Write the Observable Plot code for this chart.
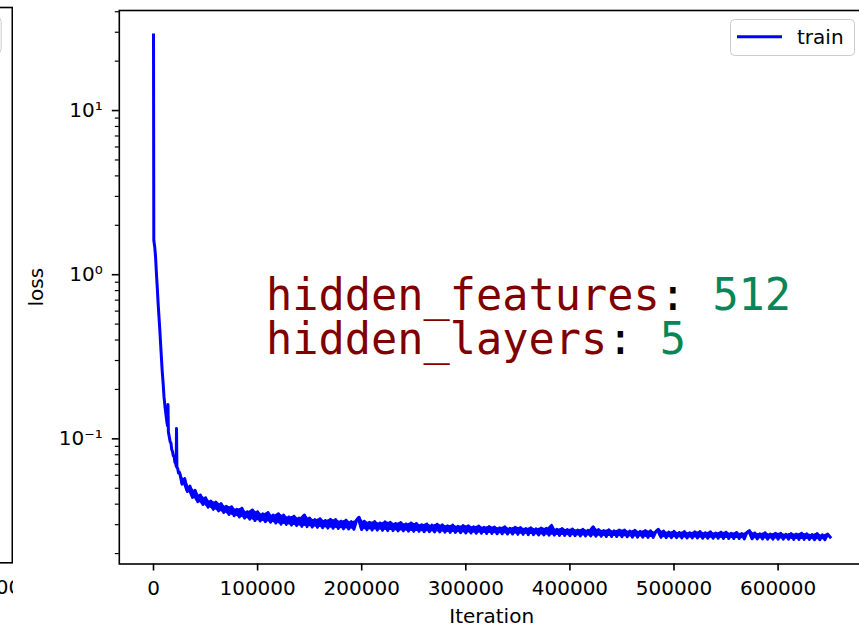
<!DOCTYPE html>
<html>
<head>
<meta charset="utf-8">
<script src="https://cdn.jsdelivr.net/npm/d3@7"></script>
<script src="https://cdn.jsdelivr.net/npm/@observablehq/plot@0.6"></script>
<style>
  html, body { margin: 0; padding: 0; background: #fff; overflow: hidden; }
  #stage { position: relative; width: 859px; height: 625px; overflow: hidden; background: #fff; }
  #stage svg { position: absolute; top: 0; left: 0; max-width: none; }
  #prev { position: absolute; left: 0; top: 0; width: 13px; height: 625px; overflow: hidden; }
</style>
</head>
<body>
<div id="stage"><div id="prev"></div></div>
<script>
// ---- training loss: steep drop over the first iterations ----
const warmupIter = [0, 300, 1200, 2000, 2800, 3600, 4500, 5300, 6100, 7200, 8300, 9200, 10100, 11000, 12000, 13000, 13500, 13900, 14300, 15000, 16000, 16800, 17500, 18200, 19000, 19800, 20600, 21300, 21800, 22100, 22500, 23200, 24000];
const warmupLoss = [28.9, 1.62, 1.47, 1.28, 1.02, 0.84, 0.66, 0.55, 0.457, 0.345, 0.262, 0.22, 0.18, 0.158, 0.140, 0.125, 0.120, 0.162, 0.110, 0.104, 0.096, 0.094, 0.086, 0.084, 0.079, 0.078, 0.072, 0.071, 0.068, 0.1155, 0.067, 0.066, 0.062];

// ---- training loss afterwards, logged every 2500 iterations (noisy) ----
const tailIter = [
  25000, 27500, 30000, 32500, 35000, 37500, 40000, 42500, 45000, 47500,
  50000, 52500, 55000, 57500, 60000, 62500, 65000, 67500, 70000, 72500,
  75000, 77500, 80000, 82500, 85000, 87500, 90000, 92500, 95000, 97500,
  100000, 102500, 105000, 107500, 110000, 112500, 115000, 117500, 120000, 122500,
  125000, 127500, 130000, 132500, 135000, 137500, 140000, 142500, 145000, 147500,
  150000, 152500, 155000, 157500, 160000, 162500, 165000, 167500, 170000, 172500,
  175000, 177500, 180000, 182500, 185000, 187500, 190000, 192500, 195000, 197500,
  200000, 202500, 205000, 207500, 210000, 212500, 215000, 217500, 220000, 222500,
  225000, 227500, 230000, 232500, 235000, 237500, 240000, 242500, 245000, 247500,
  250000, 252500, 255000, 257500, 260000, 262500, 265000, 267500, 270000, 272500,
  275000, 277500, 280000, 282500, 285000, 287500, 290000, 292500, 295000, 297500,
  300000, 302500, 305000, 307500, 310000, 312500, 315000, 317500, 320000, 322500,
  325000, 327500, 330000, 332500, 335000, 337500, 340000, 342500, 345000, 347500,
  350000, 352500, 355000, 357500, 360000, 362500, 365000, 367500, 370000, 372500,
  375000, 377500, 380000, 382500, 385000, 387500, 390000, 392500, 395000, 397500,
  400000, 402500, 405000, 407500, 410000, 412500, 415000, 417500, 420000, 422500,
  425000, 427500, 430000, 432500, 435000, 437500, 440000, 442500, 445000, 447500,
  450000, 452500, 455000, 457500, 460000, 462500, 465000, 467500, 470000, 472500,
  475000, 477500, 480000, 482500, 485000, 487500, 490000, 492500, 495000, 497500,
  500000, 502500, 505000, 507500, 510000, 512500, 515000, 517500, 520000, 522500,
  525000, 527500, 530000, 532500, 535000, 537500, 540000, 542500, 545000, 547500,
  550000, 552500, 555000, 557500, 560000, 562500, 565000, 567500, 570000, 572500,
  575000, 577500, 580000, 582500, 585000, 587500, 590000, 592500, 595000, 597500,
  600000, 602500, 605000, 607500, 610000, 612500, 615000, 617500, 620000, 622500,
  625000, 627500, 630000, 632500, 635000, 637500, 640000, 642500, 645000, 647500,
  650000
];
const tailLoss = [
  0.0625, 0.0530, 0.0572, 0.0478, 0.0515, 0.0440, 0.0486, 0.0414, 0.0455, 0.0398,
  0.0438, 0.0383, 0.0418, 0.0372, 0.0412, 0.0364, 0.0403, 0.0356, 0.0388, 0.0346,
  0.0386, 0.0340, 0.0372, 0.0334, 0.0378, 0.0329, 0.0360, 0.0324, 0.0369, 0.0318,
  0.0360, 0.0316, 0.0349, 0.0313, 0.0356, 0.0310, 0.0343, 0.0307, 0.0350, 0.0302,
  0.0343, 0.0301, 0.0334, 0.0298, 0.0338, 0.0296, 0.0329, 0.0293, 0.0344, 0.0292,
  0.0329, 0.0290, 0.0322, 0.0289, 0.0326, 0.0287, 0.0318, 0.0286, 0.0323, 0.0285,
  0.0322, 0.0284, 0.0315, 0.0283, 0.0319, 0.0282, 0.0313, 0.0281, 0.0317, 0.0333,
  0.0280, 0.0315, 0.0279, 0.0310, 0.0278, 0.0313, 0.0278, 0.0307, 0.0277, 0.0312,
  0.0276, 0.0310, 0.0276, 0.0305, 0.0275, 0.0309, 0.0275, 0.0303, 0.0274, 0.0307,
  0.0273, 0.0305, 0.0273, 0.0300, 0.0272, 0.0303, 0.0272, 0.0298, 0.0271, 0.0302,
  0.0271, 0.0299, 0.0270, 0.0295, 0.0269, 0.0298, 0.0269, 0.0293, 0.0268, 0.0296,
  0.0267, 0.0295, 0.0267, 0.0291, 0.0266, 0.0294, 0.0266, 0.0289, 0.0265, 0.0292,
  0.0265, 0.0290, 0.0264, 0.0287, 0.0264, 0.0291, 0.0263, 0.0285, 0.0263, 0.0289,
  0.0262, 0.0288, 0.0262, 0.0284, 0.0261, 0.0287, 0.0261, 0.0283, 0.0260, 0.0286,
  0.0260, 0.0285, 0.0259, 0.0297, 0.0259, 0.0281, 0.0258, 0.0284, 0.0258, 0.0280,
  0.0257, 0.0282, 0.0257, 0.0278, 0.0256, 0.0281, 0.0256, 0.0277, 0.0256, 0.0291,
  0.0255, 0.0280, 0.0255, 0.0276, 0.0254, 0.0279, 0.0254, 0.0275, 0.0254, 0.0278,
  0.0253, 0.0278, 0.0253, 0.0274, 0.0252, 0.0277, 0.0252, 0.0273, 0.0252, 0.0276,
  0.0251, 0.0275, 0.0251, 0.0271, 0.0281, 0.0251, 0.0274, 0.0250, 0.0270, 0.0250,
  0.0273, 0.0250, 0.0269, 0.0249, 0.0272, 0.0249, 0.0268, 0.0249, 0.0271, 0.0249,
  0.0272, 0.0248, 0.0268, 0.0248, 0.0271, 0.0248, 0.0267, 0.0248, 0.0270, 0.0247,
  0.0270, 0.0247, 0.0266, 0.0247, 0.0269, 0.0247, 0.0265, 0.0246, 0.0268, 0.0276,
  0.0246, 0.0267, 0.0246, 0.0264, 0.0246, 0.0268, 0.0245, 0.0263, 0.0245, 0.0266,
  0.0245, 0.0266, 0.0245, 0.0262, 0.0245, 0.0265, 0.0244, 0.0263, 0.0244, 0.0266,
  0.0244, 0.0264, 0.0244, 0.0261, 0.0243, 0.0265, 0.0243, 0.0260, 0.0243, 0.0263,
  0.0252
];

// ---- axes ----
const xTicks = [0, 100000, 200000, 300000, 400000, 500000, 600000];
const yMajorTicks = [0.1, 1, 10];
const yMinorTicks = [0.02, 0.03, 0.04, 0.05, 0.06, 0.07, 0.08, 0.09,
                     0.2, 0.3, 0.4, 0.5, 0.6, 0.7, 0.8, 0.9,
                     2, 3, 4, 5, 6, 7, 8, 9, 20, 30, 40];
const xLabel = "Iteration";
const yLabel = "loss";

// ---- run settings printed on the chart ----
const runSettings = [
  {key: "hidden_features", value: "512"},
  {key: "hidden_layers", value: "5"}
];
const legendEntries = [{label: "train", color: "#0000ff"}];

// ---- neighbouring panel on the left (only its right edge is in view) ----
const prevXTicks = [0, 100000, 200000, 300000, 400000, 500000, 600000];

// tables for the marks
const tail = tailIter.map((it, i) => ({iter: it, loss: tailLoss[i]}));
const train = warmupIter.map((it, i) => ({iter: it, loss: warmupLoss[i]})).concat(tail);
// spread between neighbouring logged samples, shaded so the noisy trace reads as one band
const tailSpread = d3.pairs(tail, (a, b) => ({
  iter: (a.iter + b.iter) / 2,
  lo: Math.min(a.loss, b.loss),
  hi: Math.max(a.loss, b.loss)
}));

const BLUE = "#0000ff";
const FONT = "DejaVu Sans";
const MONO = "DejaVu Sans Mono";

const supMap = {"-": "\u207B", "0": "\u2070", "1": "\u00B9", "2": "\u00B2", "3": "\u00B3",
                "4": "\u2074", "5": "\u2075", "6": "\u2076", "7": "\u2077", "8": "\u2078", "9": "\u2079"};
const powLabel = v => "10" + String(Math.round(Math.log10(v))).replace(/./g, c => supMap[c]);

// settings text layout (monospace, so column offsets follow character counts)
const annFont = 43.6;
const annCharW = 0.6021 * annFont;
const annLeft = 146.8;     // from frame left
const annBase = 299.3;     // first baseline, from frame top
const annGap = 44.3;

const annMarks = runSettings.flatMap((row, i) => {
  const common = {frameAnchor: "top-left", lineAnchor: "bottom", textAnchor: "start",
                  fontFamily: MONO, fontSize: annFont, dy: annBase + i * annGap};
  return [
    Plot.text([row], {...common, text: d => d.key, dx: annLeft, fill: "#800000"}),
    Plot.text([row], {...common, text: () => ":", dx: annLeft + row.key.length * annCharW, fill: "#000000"}),
    Plot.text([row], {...common, text: d => d.value, dx: annLeft + (row.key.length + 2) * annCharW, fill: "#098658"})
  ];
});

const mainPlot = Plot.plot({
  width: 859,
  height: 625,
  marginLeft: 118.8,
  marginTop: 10,
  marginBottom: 61.5,
  marginRight: -4.5,
  x: {domain: [-32853, 682517]},
  y: {type: "log", domain: [0.01728, 40.7]},
  style: {fontFamily: FONT, fontSize: "20px", color: "#000", background: "transparent", overflow: "visible"},
  marks: [
    Plot.areaY(tailSpread, {x: "iter", y1: "lo", y2: "hi", fill: BLUE}),
    Plot.line(train, {x: "iter", y: "loss", stroke: BLUE, strokeWidth: 3, strokeLinejoin: "round", strokeLinecap: "square"}),
    ...annMarks,
    Plot.frame({stroke: "#000", strokeWidth: 1.6}),
    Plot.axisX(xTicks, {tickSize: 7, tickPadding: 10, strokeWidth: 1.6, tickFormat: d => String(d), label: null}),
    Plot.axisY(yMinorTicks, {tickSize: 4, strokeWidth: 1.2, tickFormat: () => "", label: null}),
    Plot.axisY(yMajorTicks, {tickSize: 7, tickPadding: 9.5, strokeWidth: 1.6, tickFormat: powLabel, label: null}),
    Plot.text([yLabel], {frameAnchor: "left", dx: -83.2, rotate: -90, textAnchor: "middle", lineAnchor: "middle", fontSize: 20}),
    Plot.text([xLabel], {frameAnchor: "bottom", dy: 58.5, lineAnchor: "bottom", textAnchor: "middle", fontSize: 20})
  ]
});
document.getElementById("stage").appendChild(mainPlot);

// legend box, upper right
const leg = d3.select("#stage").append("svg")
  .attr("width", 859).attr("height", 625)
  .style("font-family", FONT);
leg.append("rect")
  .attr("x", 730.5).attr("y", 19.5).attr("width", 124).attr("height", 36).attr("rx", 4)
  .attr("fill", "#fff").attr("fill-opacity", 0.8).attr("stroke", "#cccccc").attr("stroke-width", 1);
legendEntries.forEach((e, i) => {
  const cy = 36.7 + i * 26;
  leg.append("line").attr("x1", 737).attr("x2", 782).attr("y1", cy).attr("y2", cy)
    .attr("stroke", e.color).attr("stroke-width", 3);
  leg.append("text").attr("x", 797).attr("y", cy + 7.3).attr("font-size", 20).attr("fill", "#000").text(e.label);
});

// neighbouring panel: frame and x tick labels, clipped to a narrow strip
const prevW = 699, prevMR = 1.2;
const prevPlot = Plot.plot({
  width: prevW,
  height: 625,
  marginLeft: 20,
  marginRight: prevMR,
  marginTop: 7,
  marginBottom: 62.7,
  x: {domain: [-23055, 628045]},
  style: {fontFamily: FONT, fontSize: "20px", color: "#000", background: "transparent"},
  marks: [
    Plot.frame({stroke: "#000", strokeWidth: 1.6}),
    Plot.axisX(prevXTicks, {tickSize: 7, tickPadding: 10, strokeWidth: 1.6, tickFormat: d => String(d), label: null})
  ]
});
prevPlot.style.left = (11.7 - (prevW - prevMR)) + "px";
document.getElementById("prev").appendChild(prevPlot);
const prevLeg = d3.select("#prev").append("svg").attr("width", 13).attr("height", 625);
prevLeg.append("rect").attr("x", -120).attr("y", 17.5).attr("width", 121.2).attr("height", 35.5).attr("rx", 4)
  .attr("fill", "#fff").attr("stroke", "#cccccc").attr("stroke-width", 1);
</script>
</body>
</html>
